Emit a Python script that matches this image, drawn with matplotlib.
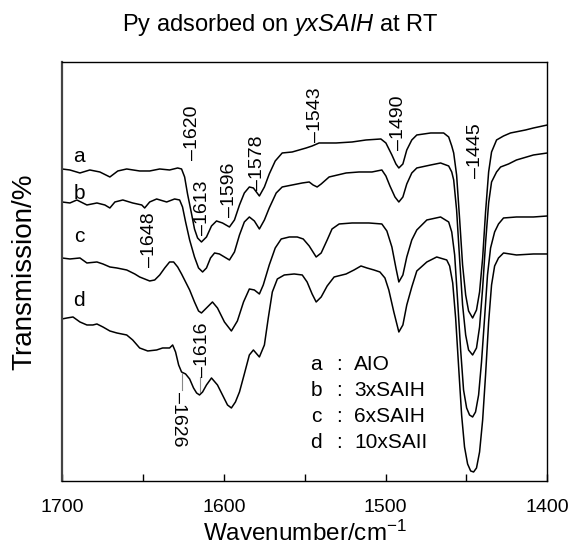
import matplotlib
matplotlib.use("Agg")
import matplotlib.pyplot as plt

plt.rcParams['font.family'] = ['Liberation Sans', 'DejaVu Sans']
plt.rcParams['mathtext.fontset'] = 'custom'
plt.rcParams['mathtext.rm'] = 'Liberation Sans'
plt.rcParams['mathtext.it'] = 'Liberation Sans:italic'

# spectra (wavenumber / cm-1, transmission in arbitrary units)
wn_a = [1700, 1695.1, 1688.9, 1682.8, 1676.6, 1670.4, 1665.5, 1660.0, 1652.0, 1645.8,
        1639.6, 1633.5, 1628.5, 1626.1, 1624.2, 1622.4, 1619.9, 1618.1, 1616.2, 1613.8,
        1610.7, 1607.6, 1604.5, 1600.8, 1596.5, 1593.4, 1590.3, 1587.3, 1584.2, 1581.7,
        1578.0, 1574.9, 1571.9, 1568.2, 1563.9, 1557.7, 1553.4, 1549.1, 1545.4, 1541.1,
        1530.6, 1520.7, 1512.1, 1502.9, 1499.8, 1496.1, 1493.6, 1491.8, 1489.3, 1486.9,
        1483.8, 1480.7, 1472.1, 1464.1, 1461.0, 1459.1, 1457.9, 1456.1, 1454.2, 1452.4,
        1450.5, 1448.7, 1446.2, 1443.8, 1441.9, 1440.0, 1438.2, 1436.3, 1434.5, 1431.4,
        1427.1, 1422.8, 1413.5, 1408.6, 1400]
t_a = [312, 311, 308, 311, 309, 304, 310, 312, 310, 310,
       312, 311, 313, 312, 304, 287, 267, 252, 243, 239,
       244, 255, 260, 258, 254, 261, 276, 288, 294, 293,
       285, 294, 307, 320, 328, 329, 331, 333, 335, 338,
       338, 339, 341, 342, 338, 326, 317, 313, 317, 331,
       341, 346, 348, 348, 344, 335, 328, 306, 261, 216,
       186, 170, 163, 171, 189, 223, 269, 309, 329, 341,
       345, 348, 351, 353, 356]

wn_b = [1700, 1695.1, 1690.8, 1684.6, 1678.4, 1673.5, 1670.4, 1667.3, 1662.4, 1656.3,
        1650.7, 1648.9, 1645.8, 1641.5, 1635.3, 1630.4, 1627.3, 1625.5, 1623.6, 1621.1,
        1618.1, 1615.6, 1613.1, 1610.7, 1608.2, 1605.7, 1602.7, 1599.6, 1596.5, 1593.4,
        1590.3, 1587.3, 1584.2, 1581.1, 1578.0, 1574.9, 1571.9, 1567.6, 1563.9, 1557.7,
        1551.5, 1547.2, 1544.8, 1542.3, 1539.8, 1534.9, 1524.4, 1516.4, 1508.4, 1502.3,
        1499.8, 1497.3, 1494.2, 1491.8, 1489.3, 1486.9, 1483.8, 1480.7, 1472.1, 1466.0,
        1461.0, 1459.1, 1457.9, 1456.1, 1454.2, 1452.4, 1450.5, 1448.7, 1446.2, 1443.8,
        1441.9, 1440.0, 1438.2, 1436.3, 1434.5, 1431.4, 1428.9, 1424.0, 1419.1, 1408.6,
        1400]
t_b = [279, 278, 281, 276, 278, 276, 273, 279, 281, 278,
       276, 273, 279, 282, 279, 282, 281, 274, 259, 241,
       224, 213, 209, 213, 223, 228, 227, 224, 221, 229,
       246, 259, 264, 260, 252, 261, 273, 288, 294, 296,
       298, 299, 296, 294, 297, 304, 308, 309, 309, 311,
       305, 295, 284, 279, 284, 297, 308, 313, 316, 318,
       315, 309, 301, 271, 221, 176, 146, 131, 126, 133,
       154, 193, 238, 278, 299, 309, 314, 317, 321, 326,
       328]

wn_c = [1700, 1695.1, 1688.9, 1684.6, 1678.4, 1674.7, 1670.4, 1666.1, 1660.0, 1655.0,
        1652.0, 1645.8, 1642.7, 1639.6, 1636.5, 1633.5, 1631.0, 1628.5, 1626.1, 1623.6,
        1621.1, 1618.1, 1615.6, 1613.8, 1610.7, 1607.0, 1603.9, 1599.6, 1595.3, 1591.6,
        1587.8, 1584.2, 1581.1, 1578.0, 1575.6, 1571.9, 1568.2, 1564.5, 1559.5, 1554.6,
        1550.9, 1547.2, 1542.9, 1539.8, 1536.1, 1533.1, 1528.7, 1520.7, 1510.3, 1502.3,
        1499.2, 1496.1, 1493.6, 1491.8, 1489.3, 1486.9, 1483.8, 1480.7, 1474.5, 1466.0,
        1461.0, 1459.1, 1457.3, 1455.5, 1453.6, 1451.8, 1449.9, 1448.1, 1446.2, 1444.4,
        1442.5, 1440.7, 1438.8, 1437.0, 1435.1, 1432.6, 1430.2, 1427.1, 1419.1, 1408.6,
        1400]
t_c = [223, 222, 223, 218, 219, 217, 214, 213, 211, 207,
       204, 200, 201, 206, 213, 219, 219, 214, 207, 199,
       191, 179, 170, 168, 173, 179, 173, 159, 150, 160,
       179, 192, 191, 187, 196, 216, 233, 242, 244, 244,
       242, 235, 224, 228, 241, 252, 257, 258, 258, 257,
       250, 234, 213, 199, 206, 224, 241, 251, 261, 264,
       259, 249, 226, 181, 131, 91, 73, 66, 64, 69,
       86, 119, 163, 206, 233, 249, 257, 263, 264, 264,
       265]

wn_d = [1700, 1696.9, 1693.2, 1688.9, 1684.6, 1680.9, 1678.4, 1674.7, 1670.4, 1666.1,
        1660.0, 1656.3, 1652.0, 1647.0, 1641.5, 1637.8, 1633.5, 1631.6, 1629.8, 1627.9,
        1626.1, 1623.6, 1621.1, 1618.7, 1616.8, 1615.0, 1613.1, 1610.7, 1607.6, 1603.9,
        1600.8, 1597.7, 1595.3, 1592.8, 1590.3, 1587.3, 1584.2, 1581.7, 1578.0, 1574.9,
        1572.5, 1570.0, 1566.9, 1562.6, 1556.5, 1551.5, 1548.5, 1545.4, 1542.9, 1539.8,
        1536.1, 1531.8, 1524.4, 1519.5, 1515.2, 1511.5, 1507.2, 1503.5, 1500.4, 1498.0,
        1494.9, 1491.8, 1489.3, 1486.9, 1483.8, 1480.7, 1474.5, 1468.4, 1462.2, 1460.4,
        1458.5, 1456.7, 1454.8, 1453.0, 1451.2, 1449.3, 1447.4, 1445.6, 1443.8, 1441.9,
        1440.0, 1438.2, 1436.3, 1434.5, 1432.6, 1430.2, 1427.1, 1419.1, 1408.6, 1400]
t_d = [162, 163, 164, 159, 156, 156, 157, 154, 150, 148,
       146, 141, 133, 130, 131, 133, 133, 136, 129, 116,
       109, 107, 102, 93, 88, 86, 89, 96, 103, 96,
       86, 76, 73, 79, 89, 107, 126, 131, 124, 136,
       163, 189, 202, 206, 207, 206, 199, 187, 179, 184,
       195, 204, 207, 211, 215, 213, 211, 209, 203, 191,
       169, 149, 156, 176, 194, 210, 219, 224, 221, 215,
       198, 163, 113, 66, 34, 17, 10, 9, 13, 29,
       61, 106, 159, 196, 215, 223, 228, 226, 227, 227]

curve_names = ['a', 'b', 'c', 'd']
curve_label_t = [324, 287, 244, 180]
samples = ['AIO', '3xSAIH', '6xSAIH', '10xSAII']

# peak marks: text, wavenumber, transmission, rotation
peaks = [('\u20131620', 1619.3, 321, 90),
         ('\u20131613', 1613.1, 246, 90),
         ('\u20131596', 1596.5, 264, 90),
         ('\u20131578', 1579.2, 291, 90),
         ('\u20131543', 1543.5, 339, 90),
         ('\u20131490', 1491.8, 331, 90),
         ('\u20131445', 1444.4, 303, 90),
         ('\u20131648', 1645.8, 214, 90),
         ('\u20131616', 1613.1, 104, 90),
         ('\u20131626', 1628.0, 89, -90)]

fig = plt.figure(figsize=(5.74, 5.49), dpi=100)
ax = fig.add_axes([0.108, 0.1239, 0.8456, 0.7632])

for wn, t in [(wn_a, t_a), (wn_b, t_b), (wn_c, t_c), (wn_d, t_d)]:
    ax.plot(wn, t, color='black', lw=1.1, solid_joinstyle='round')

ax.set_xlim(1700, 1400)
ax.set_ylim(0, 419)
ax.set_xticks([1700, 1600, 1500, 1400])
ax.set_xticks([1650, 1550, 1450], minor=True)
ax.tick_params(axis='x', which='both', direction='in', length=5, width=1,
               labelsize=14, pad=13, top=False)
ax.set_yticks([])
for s in ax.spines.values():
    s.set_linewidth(1.0)
ax.spines['left'].set_linewidth(1.6)
ax.spines['left'].set_color('#444444')

for name, t in zip(curve_names, curve_label_t):
    ax.text(1689.5, t, name, fontsize=15, ha='center', va='center')

for txt, x, y, rot in peaks:
    ax.text(x, y, txt, fontsize=14, rotation=rot, ha='center',
            va='bottom' if rot == 90 else 'top')

# thin leader lines for the two marks on curve d
ax.plot([1614.4, 1614.4], [89, 104], color='#888888', lw=0.8)
ax.plot([1626.1, 1626.1], [91, 108], color='#888888', lw=0.8)

legend_t = [116, 90, 64, 38]
for name, smp, t in zip(curve_names, samples, legend_t):
    ax.text(1542.9, t, name, fontsize=15, ha='center', va='center')
    ax.text(1528.7, t, ':', fontsize=15, ha='center', va='center')
    ax.text(1519.5, t, smp, fontsize=15, ha='left', va='center')

ax.set_xlabel('Wavenumber/cm$^{\u2212 1}$', fontsize=17.5, labelpad=3)
ax.set_ylabel('Transmission/%', fontsize=20, labelpad=18)
fig.text(0.488, 0.955, 'Py adsorbed on $\\mathit{yxSAIH}$ at RT', fontsize=17,
         ha='center', va='center')

fig.savefig('out.png', dpi=100)
